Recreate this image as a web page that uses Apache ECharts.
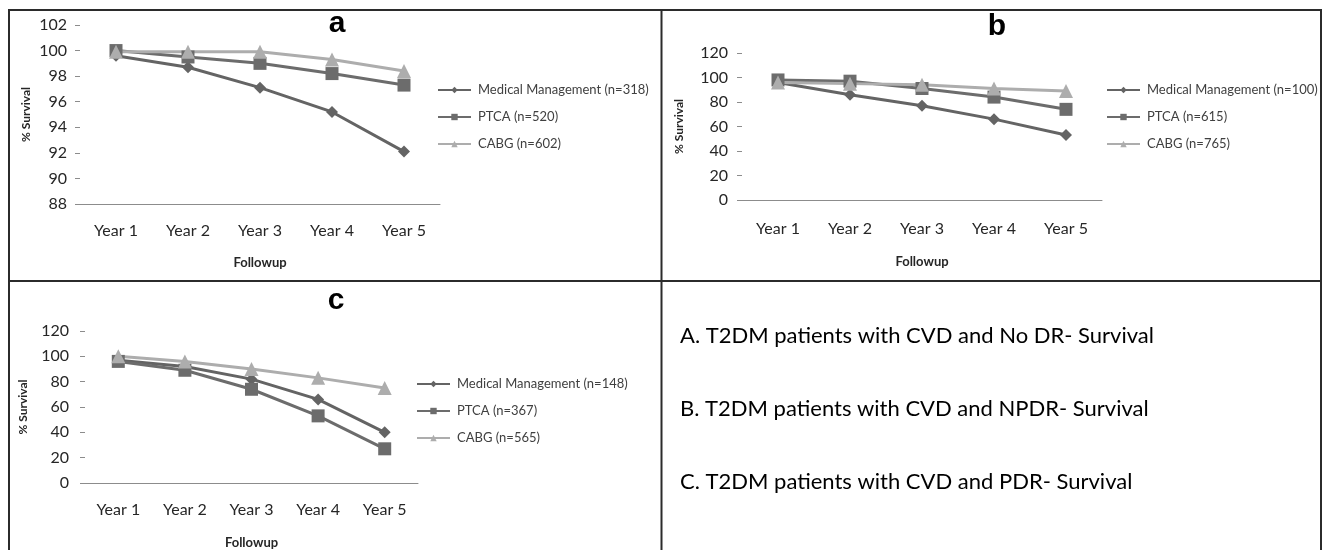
<!DOCTYPE html>
<html>
<head>
<meta charset="utf-8">
<script src="https://cdn.jsdelivr.net/npm/echarts@6/dist/echarts.min.js"></script>
<style>
  html, body { margin: 0; padding: 0; background: #fff; }
  #chart { width: 1323px; height: 550px; }
</style>
</head>
<body>
<div id="chart"></div>
<script>
// Follow-up years shared by all three panels
const years = ['Year 1', 'Year 2', 'Year 3', 'Year 4', 'Year 5'];

// Panel a: T2DM with CVD and no DR
const aNames = ['Medical Management (n=318)', 'PTCA (n=520)', 'CABG (n=602)'];
const aMedical = [99.6, 98.7, 97.1, 95.2, 92.1];
const aPTCA = [100.0, 99.5, 99.0, 98.2, 97.3];
const aCABG = [99.9, 99.9, 99.9, 99.3, 98.4];

// Panel b: T2DM with CVD and NPDR
const bNames = ['Medical Management (n=100)', 'PTCA (n=615)', 'CABG (n=765)'];
const bMedical = [96, 86, 77, 66, 53];
const bPTCA = [98, 97, 91, 84, 74];
const bCABG = [96, 95, 94, 91, 89];

// Panel c: T2DM with CVD and PDR
const cNames = ['Medical Management (n=148)', 'PTCA (n=367)', 'CABG (n=565)'];
const cMedical = [97, 92, 82, 66, 40];
const cPTCA = [96, 89, 74, 53, 27];
const cCABG = [100, 96, 90, 83, 75];

// Captions in the lower-right box
const captions = [
  'A. T2DM patients with CVD and No DR- Survival',
  'B. T2DM patients with CVD and NPDR- Survival',
  'C. T2DM patients with CVD and PDR- Survival'
];

const FONT = 'Lato, "Open Sans", sans-serif';
const COLORS = { medical: '#646464', ptca: '#6c6c6c', cabg: '#adadad' };

function xAxis(gridIndex, labelMargin, nameGap) {
  return {
    type: 'category', gridIndex, data: years, boundaryGap: true,
    axisLine: { show: true, lineStyle: { color: '#8c8c8c', width: 1 } },
    axisTick: { show: false },
    axisLabel: { color: '#262626', fontSize: 16, fontFamily: FONT, margin: labelMargin },
    name: 'Followup', nameLocation: 'middle', nameGap,
    nameTextStyle: { color: '#262626', fontSize: 13, fontWeight: 'bold', fontFamily: FONT }
  };
}

function yAxis(gridIndex, min, max, interval, labelMargin, nameGap) {
  return {
    type: 'value', gridIndex, min, max, interval,
    axisLine: { show: false },
    axisTick: { show: true, inside: false, length: 5, lineStyle: { color: '#8c8c8c' } },
    splitLine: { show: false },
    axisLabel: { color: '#262626', fontSize: 16, fontFamily: FONT, margin: labelMargin },
    name: '% Survival', nameLocation: 'middle', nameRotate: 90, nameGap,
    nameTextStyle: { color: '#262626', fontSize: 12, fontWeight: 'bold', fontFamily: FONT }
  };
}

function line(name, data, idx, kind) {
  const spec = {
    medical: { symbol: 'diamond', symbolSize: 12, color: COLORS.medical },
    ptca: { symbol: 'rect', symbolSize: 13, color: COLORS.ptca },
    cabg: { symbol: 'triangle', symbolSize: 14, color: COLORS.cabg }
  }[kind];
  return {
    type: 'line', name, data, xAxisIndex: idx, yAxisIndex: idx,
    symbol: spec.symbol, symbolSize: spec.symbolSize,
    lineStyle: { color: spec.color, width: 3 },
    itemStyle: { color: spec.color },
    animation: false
  };
}

function legend(names, left, top) {
  return {
    data: names, orient: 'vertical', left, top, padding: 0,
    itemWidth: 33, itemHeight: 8, itemGap: 13,
    textStyle: { color: '#404040', fontSize: 13, fontFamily: FONT, lineHeight: 14, padding: [0, 0, 0, 2] }
  };
}

function letter(text, x, y) {
  return {
    type: 'text', x, y,
    style: { text, font: 'bold 30px "Liberation Sans", Arial, sans-serif', fill: '#000',
             align: 'center', verticalAlign: 'middle' }
  };
}

function hline(x1, x2, y) {
  return { type: 'line', shape: { x1, y1: y, x2, y2: y }, style: { stroke: '#2b2b2b', lineWidth: 2 } };
}
function vline(x, y1, y2) {
  return { type: 'line', shape: { x1: x, y1, x2: x, y2 }, style: { stroke: '#2b2b2b', lineWidth: 2 } };
}

const chart = echarts.init(document.getElementById('chart'), null, { renderer: 'canvas' });

chart.setOption({
  backgroundColor: '#fff',
  animation: false,
  grid: [
    { left: 80, top: 25, width: 360, height: 179 },
    { left: 742, top: 53, width: 360, height: 147 },
    { left: 85, top: 331, width: 333, height: 152 }
  ],
  xAxis: [xAxis(0, 19, 52), xAxis(1, 21, 55), xAxis(2, 19, 53)],
  yAxis: [
    yAxis(0, 88, 102, 2, 13, 48),
    yAxis(1, 0, 120, 20, 14, 57),
    yAxis(2, 0, 120, 20, 16, 56)
  ],
  legend: [
    legend(aNames, 437, 83),
    legend(bNames, 1106, 83),
    legend(cNames, 416, 377)
  ],
  series: [
    line(aNames[0], aMedical, 0, 'medical'),
    line(aNames[1], aPTCA, 0, 'ptca'),
    line(aNames[2], aCABG, 0, 'cabg'),
    line(bNames[0], bMedical, 1, 'medical'),
    line(bNames[1], bPTCA, 1, 'ptca'),
    line(bNames[2], bCABG, 1, 'cabg'),
    line(cNames[0], cMedical, 2, 'medical'),
    line(cNames[1], cPTCA, 2, 'ptca'),
    line(cNames[2], cCABG, 2, 'cabg')
  ],
  graphic: [
    // panel frame
    hline(9, 1321, 10),
    hline(9, 1321, 281),
    vline(9, 9, 551),
    vline(661.5, 9, 551),
    vline(1321, 9, 551),
    letter('a', 337, 24),
    letter('b', 997, 27),
    letter('c', 336, 301),
    ...captions.map((t, i) => ({
      type: 'text', x: 680, y: 336 + i * 73,
      style: { text: t, font: '22px ' + FONT, fill: '#000', align: 'left', verticalAlign: 'middle' }
    }))
  ]
});
</script>
</body>
</html>
